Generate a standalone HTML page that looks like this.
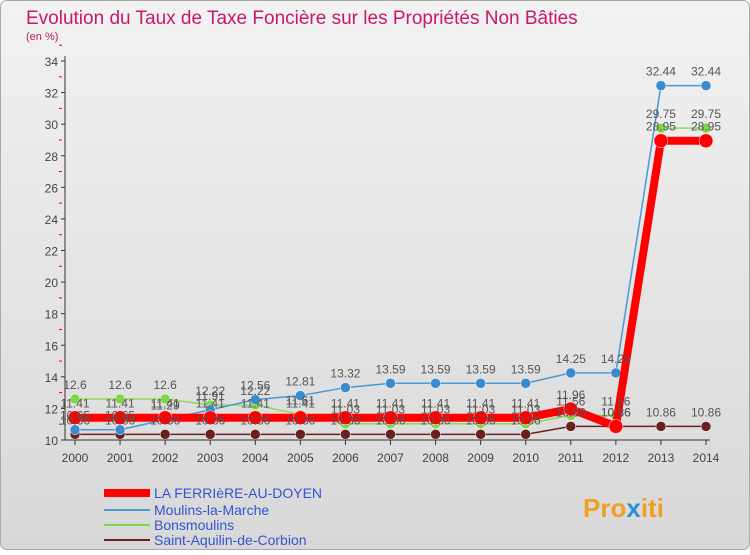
<!DOCTYPE html>
<html><head><meta charset="utf-8"><style>
body{margin:0;width:750px;height:550px;overflow:hidden;font-family:"Liberation Sans",sans-serif}
</style></head><body>
<svg width="750" height="550" xmlns="http://www.w3.org/2000/svg">
<defs><linearGradient id="bg" x1="0" y1="0" x2="0" y2="1"><stop offset="0" stop-color="#f2f2f2"/><stop offset="1" stop-color="#d8d8d8"/></linearGradient></defs>
<rect x="0.5" y="0.5" width="749" height="549" rx="6" fill="url(#bg)" stroke="#aaa"/>
<text x="26" y="24" font-size="19" fill="#c8186a">Evolution du Taux de Taxe Foncière sur les Propriétés Non Bâties</text>
<text x="26" y="40" font-size="11" fill="#c2185b">(en %)</text>
<g id="axes"></g><g id="series"></g><g id="labels"></g>
<g>
<line x1="104" y1="493" x2="150" y2="493" stroke="#f00" stroke-width="8"/><text x="154" y="498" font-size="14" fill="#3355cc">LA FERRIèRE-AU-DOYEN</text>
<line x1="104" y1="510" x2="150" y2="510" stroke="#4a9ad6" stroke-width="2"/><text x="154" y="515" font-size="14" fill="#3355cc">Moulins-la-Marche</text>
<line x1="104" y1="525" x2="150" y2="525" stroke="#7fd64a" stroke-width="2"/><text x="154" y="530" font-size="14" fill="#3355cc">Bonsmoulins</text>
<line x1="104" y1="540" x2="150" y2="540" stroke="#6b2020" stroke-width="2"/><text x="154" y="545" font-size="14" fill="#3355cc">Saint-Aquilin-de-Corbion</text>
</g>
<text x="583" y="517" font-size="26" font-weight="bold" fill="#f0a020">Pro<tspan fill="#2a8fd8">x</tspan>iti</text>
</svg>
<script>
const years=[2000,2001,2002,2003,2004,2005,2006,2007,2008,2009,2010,2011,2012,2013,2014];
const yTicks=[10,12,14,16,18,20,22,24,26,28,30,32,34];
const laFerriere=[11.41,11.41,11.41,11.41,11.41,11.41,11.41,11.41,11.41,11.41,11.41,11.96,10.86,28.95,28.95];
const moulins=[10.65,10.65,11.29,11.91,12.56,12.81,13.32,13.59,13.59,13.59,13.59,14.25,14.25,32.44,32.44];
const bonsmoulins=[12.6,12.6,12.6,12.22,12.22,11.61,11.03,11.03,11.03,11.03,11.03,11.56,11.56,29.75,29.75];
const saintAquilin=[10.36,10.36,10.36,10.36,10.36,10.36,10.36,10.36,10.36,10.36,10.36,10.86,10.86,10.86,10.86];
const NS="http://www.w3.org/2000/svg";
const xs=i=>75+i*(706-75)/(years.length-1);
const ys=v=>440-(v-10)*(440-61)/24;
function mk(tag,attrs,parent,txt){const e=document.createElementNS(NS,tag);for(const k in attrs)e.setAttribute(k,attrs[k]);if(txt!==undefined)e.textContent=txt;parent.appendChild(e);return e;}
const ax=document.getElementById('axes');
let a=mk('line',{x1:65,y1:56,x2:65,y2:440,stroke:'#333'},ax);


a=mk('line',{x1:65,y1:440,x2:710,y2:440,stroke:'#333'},ax);


yTicks.forEach(t=>{mk('line',{x1:61,y1:ys(t),x2:65,y2:ys(t),stroke:'#333'},ax);
mk('line',{x1:59,y1:ys(t+1),x2:62,y2:ys(t+1),stroke:'#e00'},ax);
const l=mk('text',{x:58,y:ys(t)+5,'font-size':12,'text-anchor':'end',fill:'#444'},ax,t);

});
years.forEach((y,i)=>{mk('line',{x1:xs(i),y1:440,x2:xs(i),y2:445,stroke:'#333'},ax);
const l=mk('text',{x:xs(i),y:462,'font-size':12,'text-anchor':'middle',fill:'#444'},ax,y);

});
const sg=document.getElementById('series'),lg=document.getElementById('labels');
function draw(vals,color,w,r,name,dot){
const p=mk('polyline',{points:vals.map((v,i)=>xs(i)+','+ys(v)).join(' '),fill:'none',stroke:color,'stroke-width':w},sg);


vals.forEach((v,i)=>{const c=mk('circle',{cx:xs(i),cy:ys(v),r:r,fill:dot,stroke:'#fff','stroke-width':0.5},sg);


const t=mk('text',{x:xs(i),y:ys(v)-10,'font-size':12,'text-anchor':'middle',fill:'#555'},lg,v);

});}
draw(saintAquilin,'#6b2020',1.5,5,'saint-aquilin','#6b2020');
draw(bonsmoulins,'#8fd85a',1.5,5,'bonsmoulins','#7fd64a');
draw(moulins,'#4a9ad6',1.5,5,'moulins','#3a8ad0');
draw(laFerriere,'#f00',8,7,'la-ferriere','#f00');
</script>
</body></html>
